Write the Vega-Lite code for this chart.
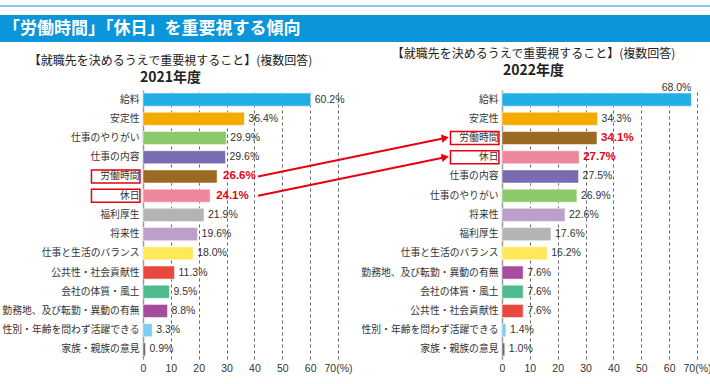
{
  "$schema": "https://vega.github.io/schema/vega-lite/v6.json",
  "padding": {"left": 0, "right": 0, "top": 5, "bottom": 0},
  "config": {
    "view": {"stroke": null},
    "axisY": {"title": null, "ticks": false, "grid": false, "domainColor": "#9a9a9a", "domainWidth": 1.5, "labelFont": "Noto Sans CJK JP", "labelFontSize": 9.8, "labelColor": "#333333", "labelPadding": 4, "minExtent": 143, "maxExtent": 143},
    "axisX": {"title": null, "ticks": false, "domain": false, "grid": true, "gridDash": [3, 3], "gridColor": "#666666", "gridWidth": 1, "gridOpacity": 1, "labelFont": "Liberation Sans", "labelFontSize": 10.5, "labelColor": "#333333", "labelPadding": 4, "labelOverlap": false, "labelFlush": false},
    "title": {"font": "Noto Sans CJK JP", "fontSize": 12, "fontWeight": "normal", "color": "#222222", "subtitleFont": "Noto Sans CJK JP", "subtitleFontSize": 14, "subtitleFontWeight": "bold", "subtitleColor": "#222222", "subtitlePadding": 0, "offset": 4}
  },
  "datasets": {
    "y2021": [
      {"item": "給料", "value": 60.2, "rank": 1},
      {"item": "安定性", "value": 36.4, "rank": 2},
      {"item": "仕事のやりがい", "value": 29.9, "rank": 3},
      {"item": "仕事の内容", "value": 29.6, "rank": 4},
      {"item": "労働時間", "value": 26.6, "rank": 5},
      {"item": "休日", "value": 24.1, "rank": 6},
      {"item": "福利厚生", "value": 21.9, "rank": 7},
      {"item": "将来性", "value": 19.6, "rank": 8},
      {"item": "仕事と生活のバランス", "value": 18.0, "rank": 9},
      {"item": "公共性・社会貢献性", "value": 11.3, "rank": 10},
      {"item": "会社の体質・風土", "value": 9.5, "rank": 11},
      {"item": "勤務地、及び転勤・異動の有無", "value": 8.8, "rank": 12},
      {"item": "性別・年齢を問わず活躍できる", "value": 3.3, "rank": 13},
      {"item": "家族・親族の意見", "value": 0.9, "rank": 14}
    ],
    "y2022": [
      {"item": "給料", "value": 68.0, "rank": 1},
      {"item": "安定性", "value": 34.3, "rank": 2},
      {"item": "労働時間", "value": 34.1, "rank": 3},
      {"item": "休日", "value": 27.7, "rank": 4},
      {"item": "仕事の内容", "value": 27.5, "rank": 5},
      {"item": "仕事のやりがい", "value": 26.9, "rank": 6},
      {"item": "将来性", "value": 22.6, "rank": 7},
      {"item": "福利厚生", "value": 17.6, "rank": 8},
      {"item": "仕事と生活のバランス", "value": 16.2, "rank": 9},
      {"item": "勤務地、及び転勤・異動の有無", "value": 7.6, "rank": 10},
      {"item": "会社の体質・風土", "value": 7.6, "rank": 11},
      {"item": "公共性・社会貢献性", "value": 7.6, "rank": 12},
      {"item": "性別・年齢を問わず活躍できる", "value": 1.4, "rank": 13},
      {"item": "家族・親族の意見", "value": 1.0, "rank": 14}
    ],
    "moves": [
      {"item": "労働時間", "rank2021": 5, "rank2022": 3},
      {"item": "休日", "rank2021": 6, "rank2022": 4}
    ]
  },
  "concat": [
    {
      "spacing": 8,
      "vconcat": [
        {
          "width": 710, "height": 2,
          "data": {"values": [{}]},
          "view": {"fill": "#86C8EE", "stroke": null},
          "mark": {"type": "point", "size": 0, "opacity": 0, "strokeWidth": 0},
          "encoding": {}
        },
        {
          "width": 710, "height": 27,
          "data": {"values": [{"title": "「労働時間」「休日」を重要視する傾向"}]},
          "view": {"fill": "#0A96D8", "stroke": null},
          "mark": {"type": "text", "align": "left", "baseline": "middle", "dx": 3, "fontSize": 17, "fontWeight": "bold", "color": "#ffffff", "font": "Noto Sans CJK JP"},
          "encoding": {
            "text": {"field": "title", "type": "nominal"},
            "x": {"datum": 0, "type": "quantitative", "scale": {"domain": [0, 1]}, "axis": null}
          }
        }
      ]
    },
    {
      "spacing": -1,
      "hconcat": [
        {
          "width": 1, "height": 1,
          "data": {"values": [{}]},
          "mark": {"type": "point", "size": 0, "opacity": 0, "strokeWidth": 0},
          "encoding": {}
        },
        {
          "spacing": -90,
          "hconcat": [
            {
              "width": 195, "height": 269,
              "title": {"text": "【就職先を決めるうえで重要視すること】(複数回答)", "subtitle": "2021年度", "dx": -70},
              "resolve": {"scale": {"y": "independent"}},
              "layer": [
                {
                  "data": {"name": "y2021"},
                  "encoding": {
                    "y": {"field": "item", "type": "nominal", "sort": {"field": "rank", "op": "min"}, "scale": {"paddingInner": 0.32, "paddingOuter": 0.16}}
                  },
                  "layer": [
                    {
                      "mark": {"type": "bar", "stroke": "#ffffff", "strokeOpacity": 0.5, "strokeWidth": 1},
                      "encoding": {
                        "x": {"field": "value", "type": "quantitative", "scale": {"domain": [0, 70], "nice": false}, "axis": {"grid": true, "values": [0, 10, 20, 30, 40, 50, 60, 70], "tickCount": 8, "labelOverlap": false, "labelSeparation": 0, "labelFlush": false, "labelExpr": "datum.value == 70 ? '70(%)' : datum.label"}},
                        "color": {"field": "item", "type": "nominal", "legend": null, "scale": {
                          "domain": ["給料", "安定性", "仕事のやりがい", "仕事の内容", "労働時間", "休日", "福利厚生", "将来性", "仕事と生活のバランス", "公共性・社会貢献性", "会社の体質・風土", "勤務地、及び転勤・異動の有無", "性別・年齢を問わず活躍できる", "家族・親族の意見"],
                          "range": ["#22ADE6", "#F5AA00", "#8CC96B", "#7A6CB0", "#9C6A24", "#EE879C", "#B4B4B4", "#BD9FCB", "#FFE85A", "#E8493F", "#4EBA8D", "#A54C9C", "#7BCDF3", "#6B6B6B"]}}
                      }
                    },
                    {
                      "mark": {"type": "bar", "fill": "transparent", "strokeWidth": 1.5},
                      "encoding": {
                        "x": {"datum": -18.5, "type": "quantitative"},
                        "x2": {"datum": -1.1},
                        "stroke": {"condition": {"test": "datum.item === '労働時間' || datum.item === '休日'", "value": "#E60012"}, "value": "transparent"}
                      }
                    },
                    {
                      "transform": [{"filter": "datum.item !== '労働時間' && datum.item !== '休日' && datum.value < 65"}],
                      "mark": {"type": "text", "align": "left", "baseline": "middle", "dx": 4, "font": "Liberation Sans", "fontSize": 10.5, "color": "#333333"},
                      "encoding": {
                        "x": {"field": "value", "type": "quantitative"},
                        "text": {"value": {"expr": "format(datum.value, '.1f') + '%'"}}
                      }
                    },
                    {
                      "transform": [{"filter": "datum.item === '労働時間' || datum.item === '休日'"}],
                      "mark": {"type": "text", "align": "left", "baseline": "middle", "dx": 6, "font": "Liberation Sans", "fontSize": 11.5, "fontWeight": "bold", "color": "#E60012"},
                      "encoding": {
                        "x": {"field": "value", "type": "quantitative"},
                        "text": {"value": {"expr": "format(datum.value, '.1f') + '%'"}}
                      }
                    }
                  ]
                },
                {
                  "data": {"name": "moves"},
                  "encoding": {
                    "y": {"field": "rank2021", "type": "quantitative", "scale": {"domain": [0.5, 14.5], "reverse": true, "nice": false, "zero": false}, "axis": null}
                  },
                  "layer": [
                    {
                      "mark": {"type": "rule", "color": "#E60012", "strokeWidth": 2},
                      "encoding": {
                        "x": {"datum": 41.3, "type": "quantitative"},
                        "x2": {"datum": 108.5},
                        "y2": {"field": "rank2022"}
                      }
                    },
                    {
                      "mark": {"type": "point", "shape": "triangle-right", "filled": true, "color": "#E60012", "opacity": 1, "size": 70, "angle": 349},
                      "encoding": {
                        "x": {"datum": 108.5, "type": "quantitative"},
                        "y": {"field": "rank2022", "type": "quantitative"}
                      }
                    }
                  ]
                }
              ]
            },
            {
              "width": 195, "height": 269,
              "title": {"text": "【就職先を決めるうえで重要視すること】(複数回答)", "subtitle": "2022年度", "dx": -66},
              "data": {"name": "y2022"},
              "encoding": {
                "y": {"field": "item", "type": "nominal", "sort": {"field": "rank", "op": "min"}, "scale": {"paddingInner": 0.32, "paddingOuter": 0.16}}
              },
              "layer": [
                {
                  "mark": {"type": "bar", "stroke": "#ffffff", "strokeOpacity": 0.5, "strokeWidth": 1},
                  "encoding": {
                    "x": {"field": "value", "type": "quantitative", "scale": {"domain": [0, 70], "nice": false}, "axis": {"grid": true, "values": [0, 10, 20, 30, 40, 50, 60, 70], "tickCount": 8, "labelOverlap": false, "labelSeparation": 0, "labelFlush": false, "labelExpr": "datum.value == 70 ? '70(%)' : datum.label"}},
                    "color": {"field": "item", "type": "nominal", "legend": null, "scale": {
                      "domain": ["給料", "安定性", "仕事のやりがい", "仕事の内容", "労働時間", "休日", "福利厚生", "将来性", "仕事と生活のバランス", "公共性・社会貢献性", "会社の体質・風土", "勤務地、及び転勤・異動の有無", "性別・年齢を問わず活躍できる", "家族・親族の意見"],
                      "range": ["#22ADE6", "#F5AA00", "#8CC96B", "#7A6CB0", "#9C6A24", "#EE879C", "#B4B4B4", "#BD9FCB", "#FFE85A", "#E8493F", "#4EBA8D", "#A54C9C", "#7BCDF3", "#6B6B6B"]}}
                  }
                },
                {
                  "mark": {"type": "bar", "fill": "transparent", "strokeWidth": 1.5},
                  "encoding": {
                    "x": {"datum": -18.5, "type": "quantitative"},
                    "x2": {"datum": -1.1},
                    "stroke": {"condition": {"test": "datum.item === '労働時間' || datum.item === '休日'", "value": "#E60012"}, "value": "transparent"}
                  }
                },
                {
                  "transform": [{"filter": "datum.item !== '労働時間' && datum.item !== '休日' && datum.value < 65"}],
                  "mark": {"type": "text", "align": "left", "baseline": "middle", "dx": 4, "font": "Liberation Sans", "fontSize": 10.5, "color": "#333333"},
                  "encoding": {
                    "x": {"field": "value", "type": "quantitative"},
                    "text": {"value": {"expr": "format(datum.value, '.1f') + '%'"}}
                  }
                },
                {
                  "transform": [{"filter": "datum.item === '労働時間' || datum.item === '休日'"}],
                  "mark": {"type": "text", "align": "left", "baseline": "middle", "dx": 4, "font": "Liberation Sans", "fontSize": 11.5, "fontWeight": "bold", "color": "#E60012"},
                  "encoding": {
                    "x": {"field": "value", "type": "quantitative"},
                    "text": {"value": {"expr": "format(datum.value, '.1f') + '%'"}}
                  }
                },
                {
                  "transform": [{"filter": "datum.value >= 65"}],
                  "mark": {"type": "text", "align": "right", "baseline": "bottom", "dy": -7, "dx": 0, "font": "Liberation Sans", "fontSize": 10.5, "color": "#333333"},
                  "encoding": {
                    "x": {"field": "value", "type": "quantitative"},
                    "text": {"value": {"expr": "format(datum.value, '.1f') + '%'"}}
                  }
                }
              ]
            }
          ]
        }
      ]
    }
  ],
  "columns": 1,
  "spacing": 5
}
